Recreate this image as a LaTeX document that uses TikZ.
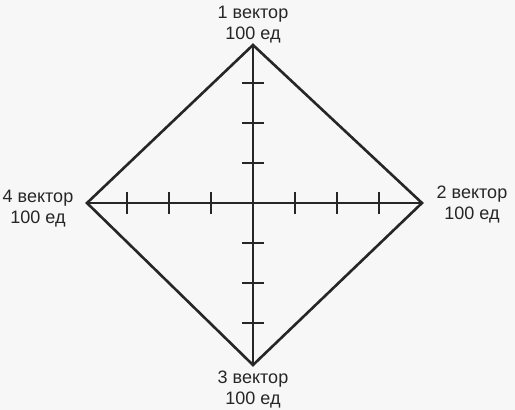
\documentclass[tikz,border=0pt]{standalone}
\usepackage{fontspec}
\setmainfont{Liberation Sans}
\usepackage{xcolor}
\definecolor{ink}{HTML}{262626}

\tikzset{
  edge/.style={draw=ink, line width=2.6pt, line join=miter},
  tick/.style={draw=ink, line width=2pt},
  lbl/.style={text=ink, align=center, inner sep=0pt, anchor=base,
    font=\fontsize{18}{21}\selectfont}
}

\begin{document}
\begin{tikzpicture}[x=1pt, y=1pt]
            \useasboundingbox[fill=black!3] (0,0) rectangle (515,410);

            % Corners of the square and its centre
            \coordinate (v1) at (253,365);
            \coordinate (v2) at (422,207);
            \coordinate (v3) at (253,45);
            \coordinate (v4) at (87,207);
            \coordinate (mid) at (253,207);

            % Vector labels at the corners (anchored on the lower line)
            \node[lbl] (lab1) at (253,370) {1 вектор\\100 ед};
            \node[lbl] (lab2) at (472,190) {2 вектор\\100 ед};
            \node[lbl] (lab3) at (253,5) {3 вектор\\100 ед};
            \node[lbl] (lab4) at (38,186) {4 вектор\\100 ед};

            % Square outline
            \draw[edge] (v1) -- (v2) -- (v3) -- (v4) -- cycle;

            % Axes joining opposite corners
            \draw[edge] (v1) -- (v3);
            \draw[edge] (v4) -- (v2);

            % Scale marks on the horizontal axis
            \draw[tick] (127,196) -- (127,218) (169,196) -- (169,218) (211,196) -- (211,218)
                        (295,196) -- (295,218) (337,196) -- (337,218) (379,196) -- (379,218);
            % Scale marks on the vertical axis
            \draw[tick] (242,327) -- (264,327) (242,287) -- (264,287) (242,247) -- (264,247)
                        (242,167) -- (264,167) (242,127) -- (264,127) (242,87) -- (264,87);
        \end{tikzpicture}
\end{document}
